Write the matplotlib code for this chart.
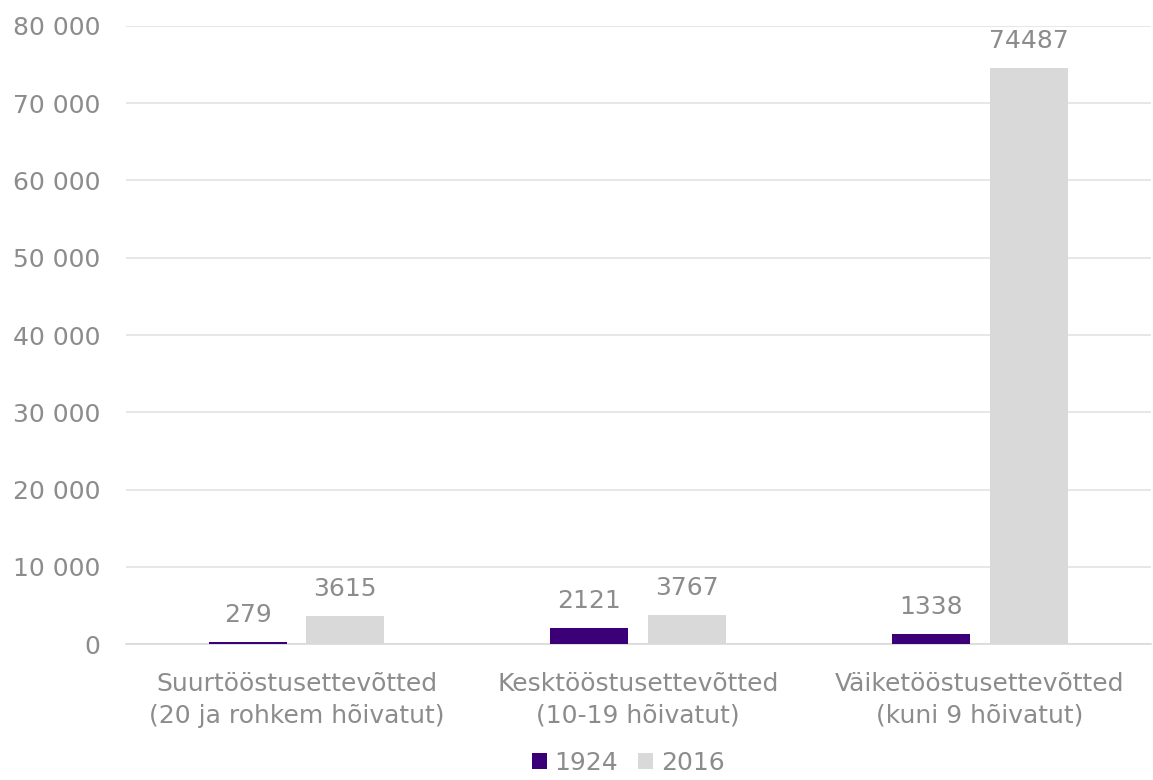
import numpy as np
import matplotlib
matplotlib.use("Agg")
import matplotlib.pyplot as plt
from matplotlib.ticker import FuncFormatter

categories = ["Suurtööstusettevõtted\n(20 ja rohkem hõivatut)",
              "Kesktööstusettevõtted\n(10-19 hõivatut)",
              "Väiketööstusettevõtted\n(kuni 9 hõivatut)"]
series_names = ["1924", "2016"]
values_1924 = [279, 2121, 1338]
values_2016 = [3615, 3767, 74487]

PURPLE = "#3b0078"
GREY = "#d9d9d9"
TEXT = "#8c8c8c"

plt.rcParams["font.family"] = ["DejaVu Sans"]

fig = plt.figure(figsize=(11.53, 7.8), dpi=100)
ax = fig.add_axes([0.109, 0.174, 0.889, 0.793])

x = np.arange(len(categories))
w = 0.228
off = 0.143
b1 = ax.bar(x - off, values_1924, w, color=PURPLE, label=series_names[0], zorder=3)
b2 = ax.bar(x + off, values_2016, w, color=GREY, label=series_names[1], zorder=3)

# value labels above bars
for bars in (b1, b2):
    for r in bars:
        ax.annotate(f"{int(r.get_height())}", (r.get_x() + r.get_width() / 2, r.get_height()),
                    xytext=(0, 11), textcoords="offset points", ha="center", va="bottom",
                    fontsize=18, color=TEXT)

ax.set_xlim(-0.5, 2.5)
ax.set_ylim(0, 80000)
ax.set_yticks(np.arange(0, 80001, 10000))
ax.yaxis.set_major_formatter(FuncFormatter(lambda v, p: f"{int(v):,}".replace(",", " ")))
ax.set_xticks(x)
ax.set_xticklabels(categories, linespacing=1.4)
ax.tick_params(axis="both", length=0, labelsize=18, labelcolor=TEXT)
ax.tick_params(axis="y", pad=18)
ax.tick_params(axis="x", pad=20)
ax.grid(axis="y", color="#e3e3e3", linewidth=1.2, zorder=0)
for s in ["top", "right", "left"]:
    ax.spines[s].set_visible(False)
ax.spines["bottom"].set_color("#d9d9d9")
ax.spines["bottom"].set_linewidth(1.2)

leg = fig.legend(loc="lower center", bbox_to_anchor=(0.545, -0.022), ncol=2, frameon=False,
                 fontsize=18, labelcolor=TEXT, handlelength=0.6, handleheight=0.6,
                 handletextpad=0.3, columnspacing=0.8)

fig.savefig("out.png", dpi=100)
